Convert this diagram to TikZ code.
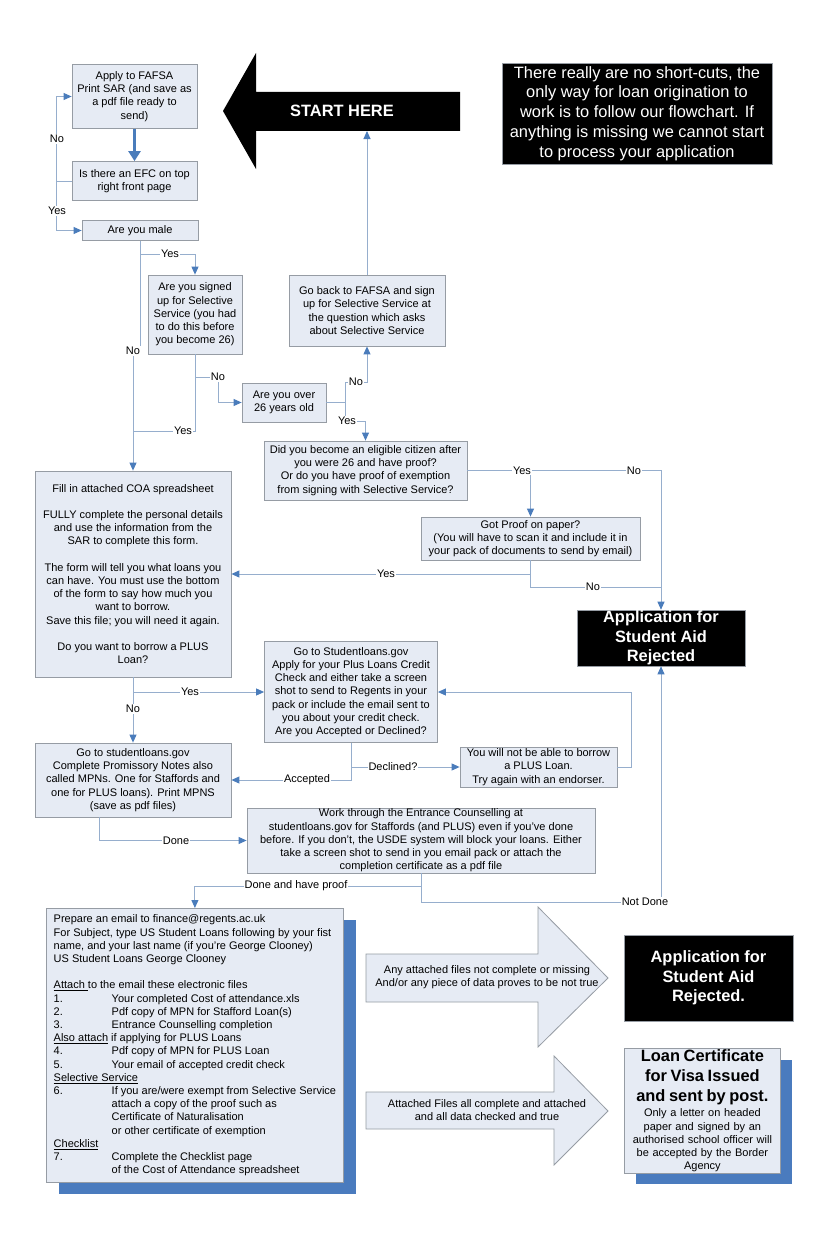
\documentclass[tikz,border=0pt]{standalone}
\usepackage{fontspec}
\setmainfont{Liberation Sans}
\usetikzlibrary{arrows.meta}
\definecolor{boxfill}{RGB}{230,235,244}
\definecolor{boxline}{RGB}{150,156,164}
\definecolor{connline}{RGB}{150,174,205}
\definecolor{tipblue}{RGB}{74,124,187}
\definecolor{shadowblue}{RGB}{74,123,190}
\tikzset{
  flowbox/.style={draw=boxline, fill=boxfill, align=center, inner sep=0pt, line width=0.8pt, font=\fontsize{11}{13.2}\selectfont},
  conn/.style={draw=connline, line width=0.9pt, -{Triangle[width=7pt,length=8pt,color=tipblue]}},
  plainline/.style={draw=connline, line width=0.9pt},
  thickarrow/.style={draw=tipblue, line width=3pt, -{Triangle[width=12pt,length=10pt]}},
  lbl/.style={fill=white, inner sep=1pt, font=\fontsize{11}{13.2}\selectfont},
  blackbox/.style={fill=black, draw=boxline, text=white, align=center, inner sep=0pt, line width=0.6pt, font=\bfseries\fontsize{16.4}{19.6}\selectfont},
  bigarrow/.style={fill=boxfill, draw=boxline, line width=0.8pt},
  arrowtext/.style={align=center, inner sep=0pt, font=\fontsize{11}{12.8}\selectfont},
}
\begin{document}
\begin{tikzpicture}[x=1pt,y=-1pt]
\useasboundingbox (0,0) rectangle (826,1244);
\fill[white] (0,0) rectangle (826,1244);

% START HERE arrow
\fill[black] (223,111) -- (256,53) -- (256,92) -- (460,92) -- (460,131) -- (256,131) -- (256,169) -- cycle;
\node[text=white, font=\bfseries\fontsize{16.4}{20}\selectfont, inner sep=0pt] (start) at (342,111) {START HERE};
\coordinate (startbottom) at (367,131);

% top right note
\node[blackbox, font=\fontsize{16.4}{19.8}\selectfont, minimum width=270pt, minimum height=101pt] (note) at (637,113.5)
 {There really are no short-cuts, the\\only way for loan origination to\\work is to follow our flowchart. If\\anything is missing we cannot start\\to process your application};

% boxes
\node[flowbox, minimum width=125pt, minimum height=64pt] (fafsa) at (134.5,96.5)
 {Apply to FAFSA\\Print SAR (and save as\\a pdf file ready to\\send)};
\node[flowbox, minimum width=125pt, minimum height=39pt] (efc) at (134.5,181)
 {Is there an EFC on top\\right front page};
\node[flowbox, minimum width=116pt, minimum height=20pt] (male) at (140,230.5) {Are you male};
\node[flowbox, minimum width=94pt, minimum height=79pt] (signed) at (195,314.5)
 {Are you signed\\up for Selective\\Service (you had\\to do this before\\you become 26)};
\node[flowbox, minimum width=84pt, minimum height=39pt] (over) at (284,402.5)
 {Are you over\\26 years old};
\node[flowbox, minimum width=156pt, minimum height=71pt] (goback) at (367,310.5)
 {Go back to FAFSA and sign\\up for Selective Service at\\the question which asks\\about Selective Service};
\node[flowbox, minimum width=203pt, minimum height=59pt] (did) at (365.5,470.5)
 {Did you become an eligible citizen after\\you were 26 and have proof?\\Or do you have proof of exemption\\from signing with Selective Service?};
\node[flowbox, minimum width=219pt, minimum height=43pt] (proof) at (530.5,538.5)
 {Got Proof on paper?\\(You will have to scan it and include it in\\your pack of documents to send by email)};
\node[blackbox, minimum width=168pt, minimum height=56pt] (rej) at (661,638)
 {Application for\\Student Aid\\Rejected};
\node[flowbox, minimum width=196pt, minimum height=206pt] (coa) at (133,574)
 {Fill in attached COA spreadsheet\\[13.2pt]FULLY complete the personal details\\and use the information from the\\SAR to complete this form.\\[13.2pt]The form will tell you what loans you\\can have. You must use the bottom\\of the form to say how much you\\want to borrow.\\Save this file; you will need it again.\\[13.2pt]Do you want to borrow a PLUS\\Loan?};
\node[flowbox, minimum width=173pt, minimum height=101pt] (sl) at (351,692)
 {Go to Studentloans.gov\\Apply for your Plus Loans Credit\\Check and either take a screen\\shot to send to Regents in your\\pack or include the email sent to\\you about your credit check.\\Are you Accepted or Declined?};
\node[flowbox, minimum width=157pt, minimum height=40pt] (notable) at (538.5,767)
 {You will not be able to borrow\\a PLUS Loan.\\Try again with an endorser.};
\node[flowbox, minimum width=196pt, minimum height=74pt] (mpn) at (133,780)
 {Go to studentloans.gov\\Complete Promissory Notes also\\called MPNs. One for Staffords and\\one for PLUS loans). Print MPNS\\(save as pdf files)};
\node[flowbox, minimum width=348pt, minimum height=65pt] (entr) at (421,840.5)
 {Work through the Entrance Counselling at\\studentloans.gov for Staffords (and PLUS) even if you've done\\before. If you don't, the USDE system will block your loans. Either\\take a screen shot to send in you email pack or attach the\\completion certificate as a pdf file};

% email box with shadow
\fill[shadowblue] (59,920) rectangle (356,1194);
\node[flowbox, align=left, anchor=north west, minimum width=297pt, minimum height=274pt] (email) at (46,908)
 {Prepare an email to finance@regents.ac.uk\\
 For Subject, type US Student Loans following by your fist\\
 name, and your last name (if you're George Clooney)\\
 US Student Loans George Clooney\\[13.2pt]
 \underline{Attach\ }to the email these electronic files\\
 \makebox[58pt][l]{1.}Your completed Cost of attendance.xls\\
 \makebox[58pt][l]{2.}Pdf copy of MPN for Stafford Loan(s)\\
 \makebox[58pt][l]{3.}Entrance Counselling completion\\
 \underline{Also attach} if applying for PLUS Loans\\
 \makebox[58pt][l]{4.}Pdf copy of MPN for PLUS Loan\\
 \makebox[58pt][l]{5.}Your email of accepted credit check\\
 \underline{Selective Service}\\
 \makebox[58pt][l]{6.}If you are/were exempt from Selective Service\\
 \hspace*{58pt}attach a copy of the proof such as\\
 \hspace*{58pt}Certificate of Naturalisation\\
 \hspace*{58pt}or other certificate of exemption\\
 \underline{Checklist}\\
 \makebox[58pt][l]{7.}Complete the Checklist page\\
 \hspace*{58pt}of the Cost of Attendance spreadsheet};

% big arrows
\draw[bigarrow] (366,954) -- (538,954) -- (538,907) -- (608,978) -- (538,1047) -- (538,1002) -- (366,1002) -- cycle;
\node[arrowtext] (a1) at (487,977.5) {Any attached files not complete or missing\\And/or any piece of data proves to be not true};
\draw[bigarrow] (366,1092) -- (554,1092) -- (554,1056) -- (608,1111) -- (554,1165) -- (554,1129) -- (366,1129) -- cycle;
\node[arrowtext] (a2) at (487,1110) {Attached Files all complete and attached\\and all data checked and true};

\node[blackbox, minimum width=169pt, minimum height=86pt] (rej2) at (708.5,978)
 {Application for\\Student Aid\\Rejected.};

% loan certificate with shadow
\fill[shadowblue] (636,1060) rectangle (792,1184);
\node[flowbox, anchor=north west, text width=156pt, minimum height=125pt] (loan) at (624,1048)
 {{\bfseries\fontsize{16.4}{20}\selectfont Loan Certificate\\for Visa Issued\\and sent by post.\par}\vspace{2pt}
 {\fontsize{11}{13.2}\selectfont Only a letter on headed\\paper and signed by an\\authorised school officer will\\be accepted by the Border\\Agency\par}};

% connectors
\draw[thickarrow] (fafsa.south) -- (efc.north);
\coordinate (j1) at ([xshift=-15pt]efc.west);
\draw[conn] (efc.west) -- (j1) |- (fafsa.west);
\draw[conn] (j1) |- (male.west);
\node[lbl] at (57,139) {No};
\node[lbl] at (57,211) {Yes};

\draw[conn] (male.south) -- ++(0,14) -| (signed.north);
\node[lbl] at (170,254) {Yes};
\coordinate (jno) at (133,351);
\draw[conn] (male.south) |- (jno) -- (coa.north);
\node[lbl] at (jno) {No};

\draw[plainline] (signed.south) |- (coa.north |- 0,431);
\node[lbl] at (183,431) {Yes};
\coordinate (js) at (218,377);
\draw[conn] (signed.south |- js) -- (js) |- (over.west);
\node[lbl] at (js) {No};

\coordinate (jo) at ([xshift=19pt]over.east);
\draw[conn] (over.east) -- (jo) -- (jo |- 0,382) -| (goback.south);
\node[lbl] at (356,382) {No};
\draw[conn] (jo) -- (jo |- 0,421) -| (did.north);
\node[lbl] at (347,421) {Yes};

\draw[conn] (goback.north) -- (startbottom);

\draw[conn] (did.east) -| (rej.north);
\draw[conn] (proof.north |- did.east) -- (proof.north);
\node[lbl] at (522,470.5) {Yes};
\node[lbl] at (634,470.5) {No};

\draw[conn] (proof.south) |- (coa.east);
\node[lbl] at (386,574) {Yes};
\draw[plainline] (proof.south) |- (rej.north |- 0,587);
\node[lbl] at (593,587) {No};

\draw[conn] (coa.south) -- (mpn.north);
\node[lbl] at (133,709) {No};
\draw[conn] (coa.south |- sl.west) -- (sl.west);
\node[lbl] at (190,692) {Yes};

\draw[conn] (sl.south) |- (mpn.east);
\node[lbl] at (307,780) {Accepted};
\draw[conn] (sl.south |- notable.west) -- (notable.west);
\node[lbl] at (393,767) {Declined?};
\draw[conn] (notable.east) -- ++(14,0) |- (sl.east);

\draw[conn] ([xshift=-34pt]mpn.south) |- (entr.west);
\node[lbl] at (176,840.5) {Done};

\coordinate (je) at (entr.south |- 0,886);
\draw[conn] (entr.south) -- (je) -| (email.north);
\node[lbl] at (296,886) {Done and have proof};
\draw[conn] (je) |- (rej.south |- 0,902) -- (rej.south);
\node[lbl] at (645,902) {Not Done};
\end{tikzpicture}
\end{document}
